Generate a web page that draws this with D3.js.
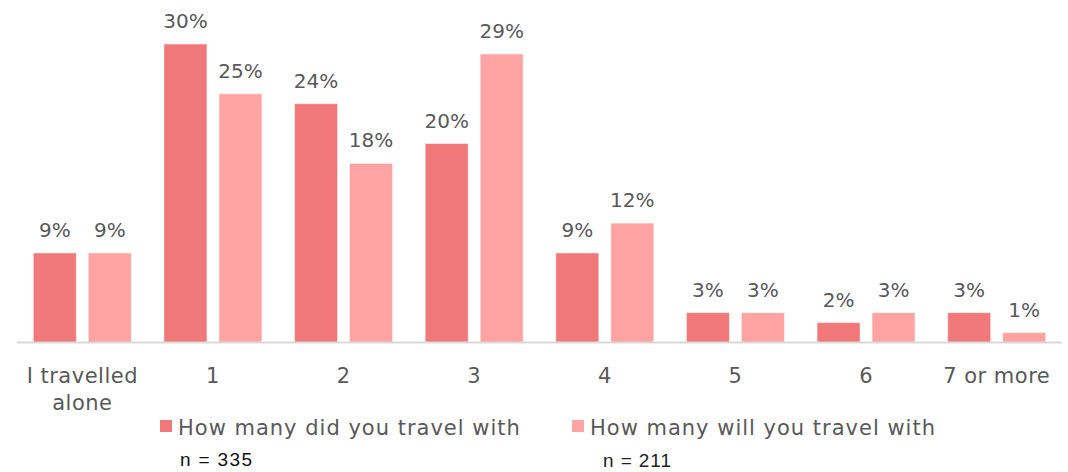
<!DOCTYPE html>
<html>
<head>
<meta charset="utf-8">
<script src="https://cdn.jsdelivr.net/npm/d3@7"></script>
<style>
  html, body { margin: 0; padding: 0; background: #ffffff; }
  svg { display: block; }
</style>
</head>
<body>
<svg id="chart" width="1068" height="472"></svg>
<script>
// Group sizes: how many people travelled with the respondent (past) and plan to (future)
const categories = ["I travelled alone", "1", "2", "3", "4", "5", "6", "7 or more"];
const didTravel = [9, 30, 24, 20, 9, 3, 2, 3];
const willTravel = [9, 25, 18, 29, 12, 3, 3, 1];
const seriesNames = ["How many did you travel with", "How many will you travel with"];
const sampleSizes = ["n = 335", "n = 211"];

const colors = ["#F07878", "#FFA3A3"];
const font = "'DejaVu Sans', sans-serif";
const textGray = "#595959";

const svg = d3.select("#chart");
const plotLeft = 17, plotRight = 1062, baseline = 342.5, plotTop = 44;

const x = d3.scaleBand().domain(categories).range([plotLeft, plotRight]).paddingInner(0).paddingOuter(0);
const y = d3.scaleLinear().domain([0, 30]).range([baseline, plotTop]);

const barW = 43, gap = 12;
const series = [didTravel, willTravel];

// bars and their value labels
series.forEach((vals, si) => {
  const offset = si === 0 ? -gap / 2 - barW : gap / 2;
  svg.append("g").selectAll("rect")
    .data(vals)
    .join("rect")
    .attr("x", (d, i) => x(categories[i]) + x.bandwidth() / 2 + offset)
    .attr("y", d => y(d))
    .attr("width", barW)
    .attr("height", d => baseline - y(d))
    .attr("fill", colors[si])
    .attr("stroke", "#ffffff")
    .attr("stroke-opacity", 0.5)
    .attr("stroke-width", 1);

  svg.append("g").selectAll("text")
    .data(vals)
    .join("text")
    .attr("x", (d, i) => x(categories[i]) + x.bandwidth() / 2 + offset + barW / 2)
    .attr("y", d => y(d) - 16)
    .attr("text-anchor", "middle")
    .attr("font-family", font)
    .attr("font-size", 20)
    .attr("fill", textGray)
    .text(d => d + "%");
});

// category axis
const axis = d3.axisBottom(x).tickSize(0).tickPadding(0);
const gx = svg.append("g").attr("transform", `translate(0,${baseline})`).call(axis);
gx.select(".domain").attr("stroke", "#D9D9D9").attr("stroke-width", 2)
  .attr("d", `M${plotLeft},0H${plotRight}`);
gx.selectAll(".tick text").remove();
gx.selectAll(".tick").each(function (d) {
  const t = d3.select(this).append("text")
    .attr("text-anchor", "middle")
    .attr("font-family", font)
    .attr("font-size", 21)
    .attr("letter-spacing", 0.5)
    .attr("fill", textGray);
  const lines = d === "I travelled alone" ? ["I travelled", "alone"] : [d];
  lines.forEach((ln, k) => {
    t.append("tspan").attr("x", 0).attr("y", 40 + k * 27).text(ln);
  });
});

// legend with sample sizes underneath
const legendX = [160, 572];
const nX = [180, 603];
const nY = [466, 467];
const nLen = [72, 68];
const nColors = ["#111111", "#222222"];
seriesNames.forEach((name, i) => {
  const g = svg.append("g");
  g.append("rect").attr("x", legendX[i]).attr("y", 420).attr("width", 12).attr("height", 12).attr("fill", colors[i]);
  g.append("text").attr("x", legendX[i] + 18).attr("y", 435)
    .attr("font-family", font).attr("font-size", 21).attr("letter-spacing", 1).attr("fill", textGray)
    .text(name);
  g.append("text").attr("x", nX[i]).attr("y", nY[i])
    .attr("font-family", "'Liberation Sans', Arial, sans-serif").attr("font-size", 19).attr("fill", nColors[i])
    .attr("textLength", nLen[i]).attr("lengthAdjust", "spacing")
    .text(sampleSizes[i]);
});
</script>
</body>
</html>
